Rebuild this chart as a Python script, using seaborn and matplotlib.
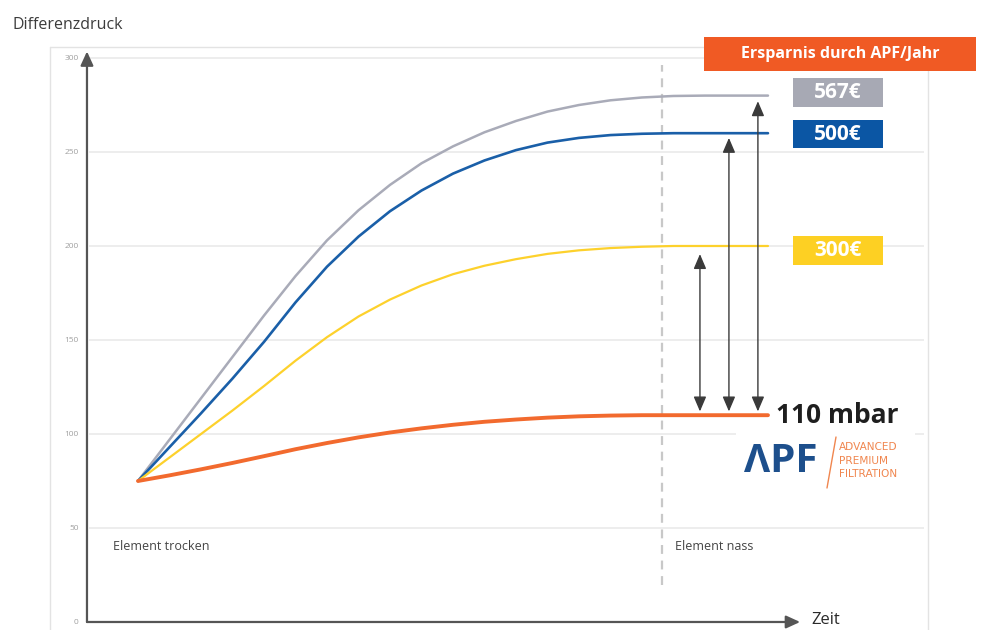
import numpy as np
import pandas as pd
import matplotlib
matplotlib.use("Agg")
import matplotlib.pyplot as plt
import seaborn as sns
from matplotlib.patches import Rectangle
from matplotlib.lines import Line2D

# ---- data -------------------------------------------------------------
time = [0, 5, 10, 15, 20, 25, 30, 35, 40, 45, 50, 55, 60, 65, 70, 75, 80, 85, 90, 95, 100]
standard_high = [75, 97, 119, 141, 163, 184, 203, 219, 232.5, 244, 253, 260.5, 266.5, 271.5, 275, 277.5, 279, 279.8, 280, 280, 280]
standard_mid = [75, 93, 111, 129.5, 149, 170, 189, 205, 218.5, 229.5, 238.5, 245.5, 251, 255, 257.5, 259, 259.7, 260, 260, 260, 260]
standard_low = [75, 87.5, 100, 112.5, 125.5, 139, 151.5, 162.5, 171.5, 179, 185, 189.5, 193, 195.8, 197.7, 198.9, 199.6, 200, 200, 200, 200]
apf = [75, 78, 81.2, 84.6, 88.2, 91.9, 95.2, 98.2, 100.8, 103, 104.9, 106.5, 107.7, 108.7, 109.4, 109.8, 110, 110, 110, 110, 110]

savings_labels = ["567€", "500€", "300€"]
apf_label = "110 mbar"
apf_level = 110
arrow_tops = [277, 257.5, 195.7]
arrow_bottom = 112
y_ticks = [0, 50, 100, 150, 200, 250, 300]
wet_time = 83.2

# ---- figure geometry (pixels) ----------------------------------------
W, H = 981, 630
def fx(x):
    return x / W
def fy(y):
    return 1 - y / H

sns.set_theme(style="white")
plt.rcParams["font.family"] = ["Open Sans", "DejaVu Sans"]

fig = plt.figure(figsize=(W / 100, H / 100), dpi=100)
ax = fig.add_axes([fx(50), 0, fx(928) - fx(50), (630 - 47) / H])
ax.set_xlim(-13.97, 125.4)
ax.set_ylim(-4.26, 305.85)
ax.set_facecolor("white")

y_axis_t = -8.1
x_axis_end = 105.1

# outer frame
for xs, ys in [((50, 50), (47, 640)), ((50, 928), (47, 47)), ((928, 928), (47, 640))]:
    ax.add_line(Line2D([fx(v) for v in xs], [fy(v) for v in ys], transform=fig.transFigure,
                       color="#e3e3e3", lw=1.0, clip_on=False, zorder=0))

# horizontal grid
ax.hlines([t for t in y_ticks if t > 0], y_axis_t + 0.3, 124.8, color="#ececec", lw=1.3, zorder=0)

# dashed marker for the wet element
ax.vlines(wet_time, 19.7, 296.3, color="#c8c8c8", lw=1.6, linestyles=(0, (4, 3)), zorder=1)

# curves
palette = {"567€": "#a9abb8", "500€": "#1a5fa8", "300€": "#fdd12c", apf_label: "#f26a2e"}
widths = {"567€": 1.8, "500€": 1.9, "300€": 1.6, apf_label: 2.8}
df = pd.DataFrame({
    "Zeit": time * 4,
    "Differenzdruck": standard_high + standard_mid + standard_low + apf,
    "Kurve": ["567€"] * len(time) + ["500€"] * len(time) + ["300€"] * len(time) + [apf_label] * len(time),
})
for name in ["567€", "500€", "300€", apf_label]:
    sns.lineplot(data=df[df["Kurve"] == name], x="Zeit", y="Differenzdruck", color=palette[name],
                 lw=widths[name], ax=ax, legend=False, zorder=3 if name == apf_label else 2)
for line in ax.get_lines():
    line.set_solid_joinstyle("round")

# axes with arrow heads
ax.annotate("", xy=(y_axis_t, 303.5), xytext=(y_axis_t, 0),
            arrowprops=dict(arrowstyle="-|>,head_length=0.7,head_width=0.32", color="#555555",
                            lw=1.6, mutation_scale=12, shrinkA=0, shrinkB=0), zorder=4)
ax.annotate("", xy=(x_axis_end, 0), xytext=(y_axis_t, 0),
            arrowprops=dict(arrowstyle="-|>,head_length=0.7,head_width=0.32", color="#555555",
                            lw=1.6, mutation_scale=12, shrinkA=0, shrinkB=0), zorder=4)
for s in ax.spines.values():
    s.set_visible(False)
ax.spines["left"].set_position(("data", y_axis_t))
ax.set_yticks(y_ticks)
ax.set_yticklabels([str(t) for t in y_ticks])
ax.tick_params(axis="y", length=0, pad=6, labelsize=6, labelcolor="#a0a0a0")
ax.set_xticks([])
ax.set_xlabel("")
ax.set_ylabel("")

# savings arrows (567€ rightmost, 300€ leftmost)
arrow_x = [98.4, 93.8, 89.2]
for xa, top in zip(arrow_x, arrow_tops):
    ax.annotate("", xy=(xa, top), xytext=(xa, arrow_bottom),
                arrowprops=dict(arrowstyle="<|-|>,head_length=0.75,head_width=0.32", color="#3a3a3a",
                                lw=1.0, mutation_scale=12, shrinkA=0, shrinkB=0), zorder=4)

# texts in the plot
ax.text(-3.97, 39.9, "Element trocken", fontsize=9, color="#444444", va="center", ha="left")
ax.text(85.2, 39.9, "Element nass", fontsize=9, color="#444444", va="center", ha="left")
ax.text(101.3, apf_level, apf_label, fontsize=19, fontweight="bold", color="#1e1e1e",
        va="center", ha="left", zorder=5)

fig.text(fx(12), fy(25), "Differenzdruck", fontsize=11.5, color="#3c3c3c", va="center", ha="left")
fig.text(fx(811), fy(620), "Zeit", fontsize=12, color="#2a2a2a", va="center", ha="left")

# badges
def badge(x0, x1, y0, y1, color, text, size):
    ax.add_patch(Rectangle((fx(x0), fy(y1)), fx(x1) - fx(x0), fy(y0) - fy(y1),
                           transform=fig.transFigure, facecolor=color, edgecolor="none",
                           clip_on=False, zorder=6))
    ax.text((fx(x0) + fx(x1)) / 2, (fy(y0) + fy(y1)) / 2, text, transform=fig.transFigure,
            fontsize=size, fontweight="bold", color="white", ha="center", va="center", zorder=7)

badge(704, 976, 37, 71, "#f05a24", "Ersparnis durch APF/Jahr", 11.5)
badge_colors = ["#a7a9b4", "#0b56a4", "#fdd023"]
badge_rows = [(78, 107), (120, 148), (236, 265)]
for lab, col, (y0, y1) in zip(savings_labels, badge_colors, badge_rows):
    badge(793, 883, y0, y1, col, lab, 15)

# APF logo
ax.add_patch(Rectangle((fx(736), fy(492)), fx(915) - fx(736), fy(432) - fy(492),
                       transform=fig.transFigure, facecolor="white", edgecolor="none",
                       clip_on=False, zorder=1))
fig.text(fx(744), fy(461), "ΛPF", fontsize=29, fontweight="bold", color="#1d4f8c",
         va="center", ha="left")
ax.add_line(Line2D([fx(827), fx(836)], [fy(488), fy(437)], transform=fig.transFigure,
                   color="#f0864f", lw=1.0, clip_on=False, zorder=6))
for txt, yy in [("ADVANCED", 447), ("PREMIUM", 460.5), ("FILTRATION", 474)]:
    fig.text(fx(839), fy(yy), txt, fontsize=7.6, color="#f0864f", va="center", ha="left",
             family=["Liberation Sans Narrow", "DejaVu Sans"])

fig.savefig("out.png", dpi=100)
